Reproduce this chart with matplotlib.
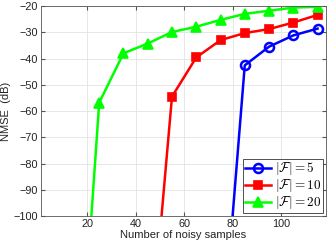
import matplotlib
matplotlib.use("Agg")
import matplotlib.pyplot as plt
import numpy as np

plt.rcParams['font.family'] = ['Liberation Sans', 'DejaVu Sans']
plt.rcParams['mathtext.fontset'] = 'cm'

# data (the first point of each curve is far below the axis)
x_f5 = [75, 85, 95, 105, 115]
y_f5 = [-157, -42.6, -35.5, -31.2, -28.6]
x_f10 = [45, 55, 65, 75, 85, 95, 105, 115]
y_f10 = [-160, -54.5, -39.6, -33.0, -30.3, -28.8, -26.3, -23.4]
x_f20 = [15, 25, 35, 45, 55, 65, 75, 85, 95, 105, 115]
y_f20 = [-190, -56.8, -38.0, -34.3, -29.9, -27.9, -25.3, -23.0, -21.8, -20.6, -20.3]
labels = [r'$|\mathcal{F}|=5$', r'$|\mathcal{F}|=10$', r'$|\mathcal{F}|=20$']

fig = plt.figure(figsize=(3.27, 2.45), dpi=100)
ax = fig.add_axes([0.1254, 0.118, 0.8716, 0.8575])

ax.plot(x_f5, y_f5, color='#0000ff', lw=1.8, marker='o', ms=6.5,
        mfc='none', mew=1.8, label=labels[0])
ax.plot(x_f10, y_f10, color='#ff0000', lw=1.8, marker='s', ms=5.5,
        mew=1.2, label=labels[1])
ax.plot(x_f20, y_f20, color='#00ff00', lw=1.8, marker='^', ms=7,
        mew=1.2, label=labels[2])

ax.set_xlim(1, 118.5)
ax.set_ylim(-100, -20)
ax.set_xticks([20, 40, 60, 80, 100])
ax.set_yticks(np.arange(-100, -19, 10))
ax.grid(True, color='#e3e3e3', lw=0.6)
ax.set_axisbelow(True)
ax.tick_params(direction='in', length=3, labelsize=7.8, color='#555555',
               labelcolor='#222222', top=True, right=True, pad=2)
for s in ax.spines.values():
    s.set_color('#555555')
    s.set_linewidth(0.6)

ax.set_xlabel('Number of noisy samples', fontsize=8, labelpad=1, color='#222222')
ax.set_ylabel('NMSE  (dB)', fontsize=8, labelpad=2, color='#222222')

leg = ax.legend(loc='lower right', fontsize=9.5, handlelength=2.0,
                borderpad=0.1, labelspacing=0.0, handletextpad=0.3,
                fancybox=False, framealpha=1, borderaxespad=0.25)
leg.get_frame().set_edgecolor('#333333')
leg.get_frame().set_linewidth(0.6)

fig.savefig('out.png', dpi=100)
